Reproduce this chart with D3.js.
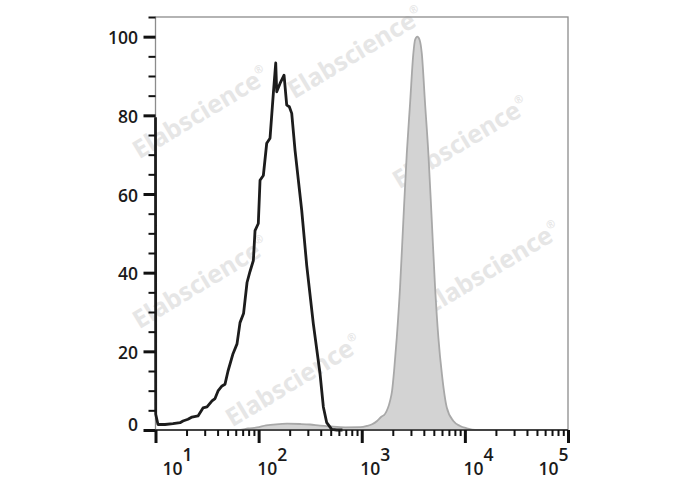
<!DOCTYPE html>
<html><head><meta charset="utf-8">
<script src="https://cdn.jsdelivr.net/npm/d3@7"></script>
<style>body{margin:0;background:#fff}svg{display:block}</style>
</head><body>
<svg id="c" width="688" height="490"></svg>
<script>
// ---- data ----
const blackX=[10,10.05,10.57,12.36,14.78,17.29,18.48,20.66,22.6,25.84,28.89,31.59,35.32,37.77,40.4,44.16,47.22,50.5,56.46,61.73,66.0,71.4,77.2,82.5,88.9,92.3,99.3,103.2,111.1,119.8,129.0,138.9,146.5,149.8,161.3,176.4,187.3,198.5,209.4,225.5,261.8,292.8,339.3,394.0,424.3,457.6,511.7,572.2,650];
const blackY=[79.5,4.0,1.4,1.4,1.6,1.86,2.3,2.73,3.3,3.57,5.6,5.86,7.4,8.0,9.94,11.2,11.65,15.0,19.4,21.9,27.3,29.6,37.5,40.3,43.1,50.7,52.5,63.5,64.7,72.9,74.2,85.6,93.3,86.0,88.1,90.2,82.6,82.2,80.5,71.1,55.8,41.8,27.0,14.3,5.86,1.86,0.18,0,0];
const grayX=[10,52.8,66.0,78.9,96.5,118,147.5,188.6,252.1,315.1,393.9,492.6,688.7,962.7,1125.6,1258.9,1407.6,1539.1,1682.6,1881,1968,2058,2186,2352,2532,2733,2941,3167,3289,3462,3636,3819,4111,4426,4775,5140,5534,6009,6675,7734,8985,10435,12560,100000];
const grayY=[0,0,0,0.38,0.64,1.15,1.45,1.6,1.53,1.4,1.1,0.9,0.69,0.71,1.02,1.45,2.3,3.3,4.1,7.4,9.94,15.0,23.5,36.3,53.3,70.3,83.0,95.8,99.2,100,99.2,95.8,83.0,70.3,53.3,36.3,23.5,13.8,5.7,2.3,1.02,0.43,0,0];
const yMajor=[0,20,40,60,80,100];
const yMinor=[5,10,15,25,30,35,45,50,55,65,70,75,85,90,95,105];
const xMajor=[1e1,1e2,1e3,1e4,1e5];
const xExp=["1","2","3","4","5"];
const watermark="Elabscience";

// ---- layout ----
const svg=d3.select("#c");
const x=d3.scaleLog().domain([10,1e5]).range([155.5,568]);
const y=d3.scaleLinear().domain([0,105]).range([430,17]);
const FONT="'Open Sans', 'Noto Sans', sans-serif";

// watermarks
const wmPos=[[205,120],[360,60],[465,150],[205,290],[497,275],[298,388]];
wmPos.forEach(p=>{
  const t=svg.append("text").attr("transform",`translate(${p[0]},${p[1]}) rotate(-31)`)
    .attr("text-anchor","middle").attr("font-family","'Noto Sans', sans-serif").attr("font-weight","bold")
    .attr("font-size",25).attr("fill","#e6e6e6");
  t.append("tspan").text(watermark);
  t.append("tspan").attr("font-size",11).attr("dy",-12).text("®");
});

// frame
svg.append("rect").attr("x",155.5).attr("y",17).attr("width",568-155.5).attr("height",430-17)
  .attr("fill","none").attr("stroke","#8c8c8c").attr("stroke-width",1.3);

// gray filled histogram
const area=d3.area().x((d,i)=>x(grayX[i])).y0(y(0)).y1((d,i)=>y(grayY[i])).curve(d3.curveMonotoneX);
const line=d3.line().x((d,i)=>x(grayX[i])).y((d,i)=>y(grayY[i])).curve(d3.curveMonotoneX);
svg.append("path").attr("d",area(grayX)).attr("fill","#d3d3d3");
svg.append("path").attr("d",line(grayX)).attr("fill","none").attr("stroke","#a8a8a8").attr("stroke-width",1.8);

// black histogram
const bline=d3.line().x((d,i)=>x(blackX[i])).y((d,i)=>y(blackY[i]));
svg.append("path").attr("d",bline(blackX)).attr("fill","none").attr("stroke","#1c1c1c")
  .attr("stroke-width",2.8).attr("stroke-linejoin","round");

// x axis line
svg.append("line").attr("x1",155.5).attr("x2",568).attr("y1",430).attr("y2",430)
  .attr("stroke","#222").attr("stroke-width",1.6);

// y axis ticks
const yAxMaj=svg.append("g").attr("transform","translate(155.5,0)")
  .call(d3.axisLeft(y).tickValues(yMajor).tickSize(12).tickFormat(""));
const yAxMin=svg.append("g").attr("transform","translate(155.5,0)")
  .call(d3.axisLeft(y).tickValues(yMinor).tickSize(7).tickFormat(""));
// x axis ticks
const xMinor=[];
[10,100,1000,10000].forEach(b=>{for(let k=2;k<=9;k++)xMinor.push(b*k);});
const xAxMaj=svg.append("g").attr("transform","translate(0,430)")
  .call(d3.axisBottom(x).tickValues(xMajor).tickSize(13).tickFormat(""));
const xAxMin=svg.append("g").attr("transform","translate(0,430)")
  .call(d3.axisBottom(x).tickValues(xMinor).tickSize(6).tickFormat(""));
[yAxMaj,yAxMin,xAxMaj,xAxMin].forEach(g=>g.select(".domain").remove());
yAxMaj.selectAll("line").attr("stroke","#111").attr("stroke-width",3);
xAxMaj.selectAll("line").attr("stroke","#111").attr("stroke-width",3);
yAxMin.selectAll("line").attr("stroke","#111").attr("stroke-width",2);
xAxMin.selectAll("line").attr("stroke","#111").attr("stroke-width",2);

// y labels
svg.append("g").selectAll("text").data(yMajor).join("text")
  .attr("x",138).attr("y",d=>d===0?y(0)-5:y(d)+1.5).attr("dy","0.35em")
  .attr("text-anchor","end").attr("font-family",FONT).attr("font-weight",600)
  .attr("font-size",17.5).attr("fill","#1a1a1a").text(d=>d);

// x labels
const xl=svg.append("g").selectAll("text").data(xMajor).join("text")
  .attr("y",475).attr("font-family",FONT).attr("font-weight",600)
  .attr("font-size",17.5).attr("fill","#1a1a1a");
xl.append("tspan").text("10");
xl.append("tspan").attr("dy",-14).text((d,i)=>xExp[i]);
xl.each(function(d){
  const w=this.getComputedTextLength();
  let px=x(d)-1.5;
  px=Math.max(px,162.5);
  px=Math.min(px,568.5-w);
  d3.select(this).attr("x",px);
});
</script>
</body></html>
